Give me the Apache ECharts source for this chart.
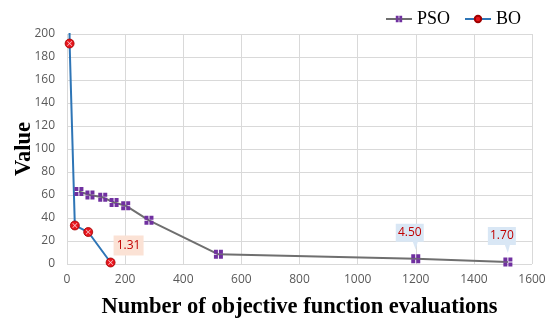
<!DOCTYPE html>
<html><head><meta charset="utf-8">
<script src="https://cdn.jsdelivr.net/npm/echarts@6/dist/echarts.min.js"></script>
<style>html,body{margin:0;padding:0;background:#fff}#c{width:550px;height:326px}</style>
</head><body><div id="c"></div>
<script>
var psoX = [41, 79, 123, 162, 202, 282, 521, 1200, 1517];
var psoY = [63, 60, 58, 53.5, 50.7, 38, 8.4, 4.50, 1.70];
var boX = [7, 9, 27, 73, 150];
var boY = [300, 191.7, 33.5, 27.8, 1.31];
var psoLabels = [[1200, 4.50, '4.50'], [1517, 1.70, '1.70']];
var boLabel = [150, 1.31, '1.31'];
var xTicks = [0, 200, 400, 600, 800, 1000, 1200, 1400, 1600];
var yTicks = [0, 20, 40, 60, 80, 100, 120, 140, 160, 180, 200];

function pairs(xs, ys){ return xs.map(function(x,i){return [x, ys[i]];}); }

var psoSym = 'path://M0,0h4v4h-4z M5,0h4v4h-4z M0,5h4v4h-4z M5,5h4v4h-4z';
var xSym = 'path://M0,1 L1,0 L5,4 L9,0 L10,1 L6,5 L10,9 L9,10 L5,6 L1,10 L0,9 L4,5 Z';
var callout = 'path://M0,0 H28 V18 H22 L20,26 L17,18 H0 Z';

var chart = echarts.init(document.getElementById('c'));
chart.setOption({
  animation: false,
  grid: {left: 67, right: 18, top: 34, bottom: 62, containLabel: false, outerBoundsMode: 'none'},
  legend: {
    right: 24, top: 5, itemWidth: 26, itemHeight: 8, itemGap: 14,
    textStyle: {fontFamily: 'Liberation Serif', fontSize: 18, color: '#000'},
    data: ['PSO', 'BO']
  },
  xAxis: {
    type: 'value', min: xTicks[0], max: xTicks[xTicks.length-1], interval: 200,
    name: 'Number of objective function evaluations', nameLocation: 'middle', nameGap: 32,
    nameTextStyle: {fontFamily: 'Liberation Serif', fontWeight: 'bold', fontSize: 22.5, color: '#000'},
    axisLine: {show: false}, axisTick: {show: false},
    axisLabel: {color: '#595959', fontFamily: 'Open Sans', fontSize: 12, margin: 10,
      formatter: function(v){ return String(v); }},
    splitLine: {show: true, lineStyle: {color: '#d9d9d9'}}
  },
  yAxis: {
    type: 'value', min: yTicks[0], max: yTicks[yTicks.length-1], interval: 20,
    name: 'Value', nameLocation: 'middle', nameGap: 31, nameMoveOverlap: false,
    nameTextStyle: {fontFamily: 'Liberation Serif', fontWeight: 'bold', fontSize: 22.5, color: '#000'},
    axisLine: {show: false}, axisTick: {show: false},
    axisLabel: {color: '#595959', fontFamily: 'Open Sans', fontSize: 12, margin: 12},
    splitLine: {show: true, lineStyle: {color: '#d9d9d9'}}
  },
  series: [
    {
      name: 'PSO', type: 'line', data: pairs(psoX, psoY), clip: true,
      lineStyle: {color: '#6f6f6f', width: 2},
      itemStyle: {color: '#7030a0'},
      symbol: psoSym, symbolSize: 9, showAllSymbol: true,
      markPoint: {
        symbol: callout, symbolSize: [28, 26], symbolOffset: [-6, -22],
        itemStyle: {color: '#d9e7f5'},
        label: {show: true, color: '#c00000', fontFamily: 'Open Sans', fontSize: 12, offset: [0, -4],
          formatter: function(p){ return p.name; }},
        data: psoLabels.map(function(d){ return {name: d[2], coord: [d[0], d[1]]}; })
      }
    },
    {
      name: 'BO', type: 'line', data: pairs(boX, boY), clip: true,
      lineStyle: {color: '#2e75b6', width: 2},
      itemStyle: {color: '#e8141c', borderColor: '#a00000', borderWidth: 0.8},
      symbol: 'circle', symbolSize: 9, showAllSymbol: true,
      markPoint: {
        symbol: 'rect', symbolSize: [30, 20], symbolOffset: [18, -17],
        itemStyle: {color: '#fbe2d5'},
        label: {show: true, color: '#c00000', fontFamily: 'Open Sans', fontSize: 12,
          formatter: function(p){ return p.name; }},
        data: [{name: boLabel[2], coord: [boLabel[0], boLabel[1]]}]
      }
    },
    {
      name: 'BOx', type: 'scatter', data: pairs(boX, boY), clip: true,
      symbol: xSym, symbolSize: 5, itemStyle: {color: '#fff'}, z: 5,
      silent: true
    }
  ]
});
</script></body></html>
